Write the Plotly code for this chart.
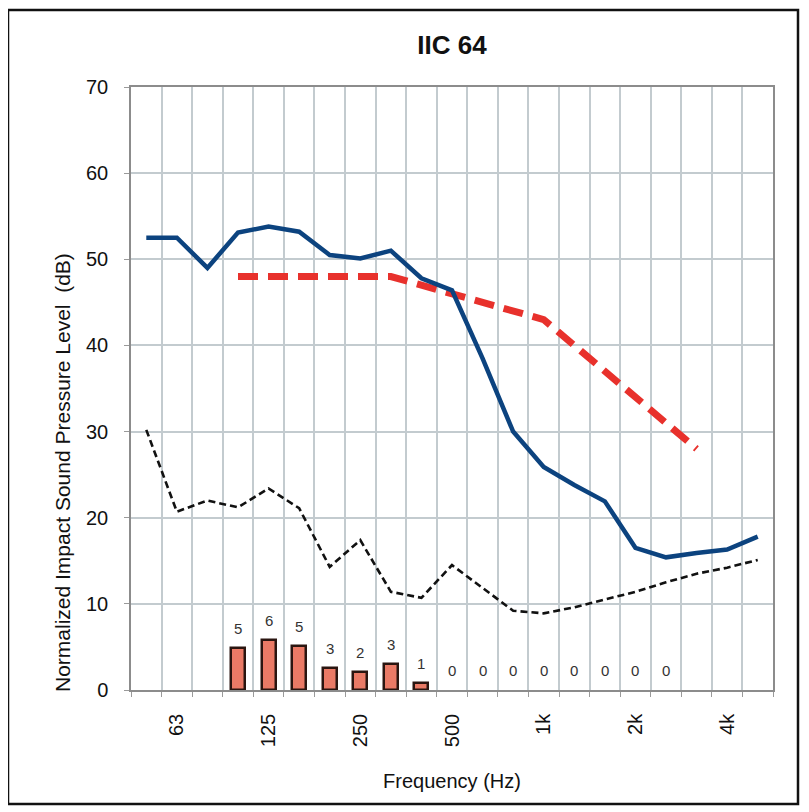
import plotly.graph_objects as go

# ---------------- data ----------------
bands = ["50", "63", "80", "100", "125", "160", "200", "250", "315", "400", "500",
         "630", "800", "1000", "1250", "1600", "2000", "2500", "3150", "4000", "5000"]
tick_text = ["", "63", "", "", "125", "", "", "250", "", "", "500",
             "", "", "1k", "", "", "2k", "", "", "4k", ""]

measured = [52.5, 52.5, 49.0, 53.1, 53.8, 53.2, 50.5, 50.1, 51.0, 47.8, 46.4,
            38.5, 30.0, 25.9, 23.8, 21.9, 16.5, 15.4, 15.9, 16.3, 17.8]

background = [30.2, 20.7, 22.0, 21.2, 23.4, 21.1, 14.3, 17.4, 11.4, 10.7, 14.5,
              11.9, 9.2, 8.9, 9.6, 10.5, 11.4, 12.5, 13.5, 14.2, 15.1]

contour_bands = ["100", "125", "160", "200", "250", "315", "400", "500",
                 "630", "800", "1000", "1250", "1600", "2000", "2500", "3150"]
contour = [48, 48, 48, 48, 48, 48, 47, 46, 45, 44, 43, 40, 37, 34, 31, 28]

def_bands = ["100", "125", "160", "200", "250", "315", "400", "500",
             "630", "800", "1000", "1250", "1600", "2000", "2500"]
deficiency = [4.9, 5.8, 5.1, 2.5, 2.1, 3.0, 0.8, 0, 0, 0, 0, 0, 0, 0, 0]
def_labels = ["5", "6", "5", "3", "2", "3", "1", "0", "0", "0", "0", "0", "0", "0", "0"]

title_text = "IIC 64"
x_title = "Frequency (Hz)"
y_title = "Normalized Impact Sound Pressure Level  (dB)"

# ---------------- figure ----------------
FONT = "Liberation Sans, Arial, sans-serif"
# page body has an 8px margin, so the layout is shifted by -8px
OFF = 8
W, H = 809, 812
L, T = 131 - OFF, 87 - OFF
R = W - (773 - OFF)
B = H - (690 - OFF)
PW = W - L - R
PH = H - T - B

fig = go.Figure()

fig.add_trace(go.Bar(
    x=def_bands, y=deficiency, width=0.46,
    marker=dict(color="#ea7a66",
                line=dict(color="#2a1510",
                          width=[2.5 if v > 0 else 0 for v in deficiency])),
    showlegend=False, hoverinfo="skip"))

fig.add_trace(go.Scatter(
    x=bands, y=background, mode="lines",
    line=dict(color="#111111", width=2.6, dash="7px,4px"),
    showlegend=False))

fig.add_trace(go.Scatter(
    x=contour_bands, y=contour, mode="lines",
    line=dict(color="#e8312c", width=7, dash="20px,10px"),
    showlegend=False))

fig.add_trace(go.Scatter(
    x=bands, y=measured, mode="lines",
    line=dict(color="#0c437f", width=4.5),
    showlegend=False))

annotations = []
for b, v, lab in zip(def_bands, deficiency, def_labels):
    annotations.append(dict(
        x=bands.index(b), y=v, xref="x", yref="y", text=lab, showarrow=False,
        yanchor="bottom", yshift=9,
        font=dict(family=FONT, size=15, color="#333333")))

# y axis title as annotation (offset lower than plot centre, as in reference)
annotations.append(dict(
    x=(62 - 131) / PW, y=(690 - 473) / PH, xref="paper", yref="paper", text=y_title,
    textangle=-90, showarrow=False, xanchor="center", yanchor="middle",
    font=dict(family=FONT, size=21, color="#111111")))

fig.update_layout(
    width=W, height=H,
    margin=dict(l=L, r=R, t=T, b=B),
    paper_bgcolor="white", plot_bgcolor="white",
    title=dict(text="<b>" + title_text + "</b>", x=0.5, xanchor="center",
               y=1 - (45 - OFF) / H, yanchor="middle", xref="paper",
               font=dict(family=FONT, size=26, color="#111111")),
    bargap=0,
    annotations=annotations,
    shapes=[dict(type="rect", xref="paper", yref="paper",
                 x0=(8 - 131) / PW, x1=(798 - 131) / PW,
                 y0=(690 - 804) / PH, y1=(690 - 10) / PH,
                 line=dict(color="#111111", width=2.5))],
)

fig.update_xaxes(
    type="category", categoryorder="array", categoryarray=bands,
    tickmode="array", tickvals=bands, ticktext=tick_text,
    tickson="boundaries", range=[-0.5, 20.5],
    ticks="outside", ticklen=5, tickcolor="#9a9a9a",
    tickangle=-90, ticklabelstandoff=14,
    showgrid=True, gridcolor="#c3cbcf", gridwidth=1.5,
    showline=True, linecolor="#8c8c8c", linewidth=1.5, mirror=True,
    tickfont=dict(family=FONT, size=20, color="#111111"),
    title=dict(text=x_title, font=dict(family=FONT, size=20, color="#111111"),
               standoff=28),
)

fig.update_yaxes(
    range=[0, 70], tickmode="array", tickvals=[0, 10, 20, 30, 40, 50, 60, 70],
    ticks="outside", ticklen=5, tickcolor="#9a9a9a",
    showgrid=True, gridcolor="#c3cbcf", gridwidth=1.5,
    showline=True, linecolor="#8c8c8c", linewidth=1.5, mirror=True,
    zeroline=False,
    tickfont=dict(family=FONT, size=20, color="#111111"),
    ticklabelstandoff=12,
)

fig.write_html("out.html")
